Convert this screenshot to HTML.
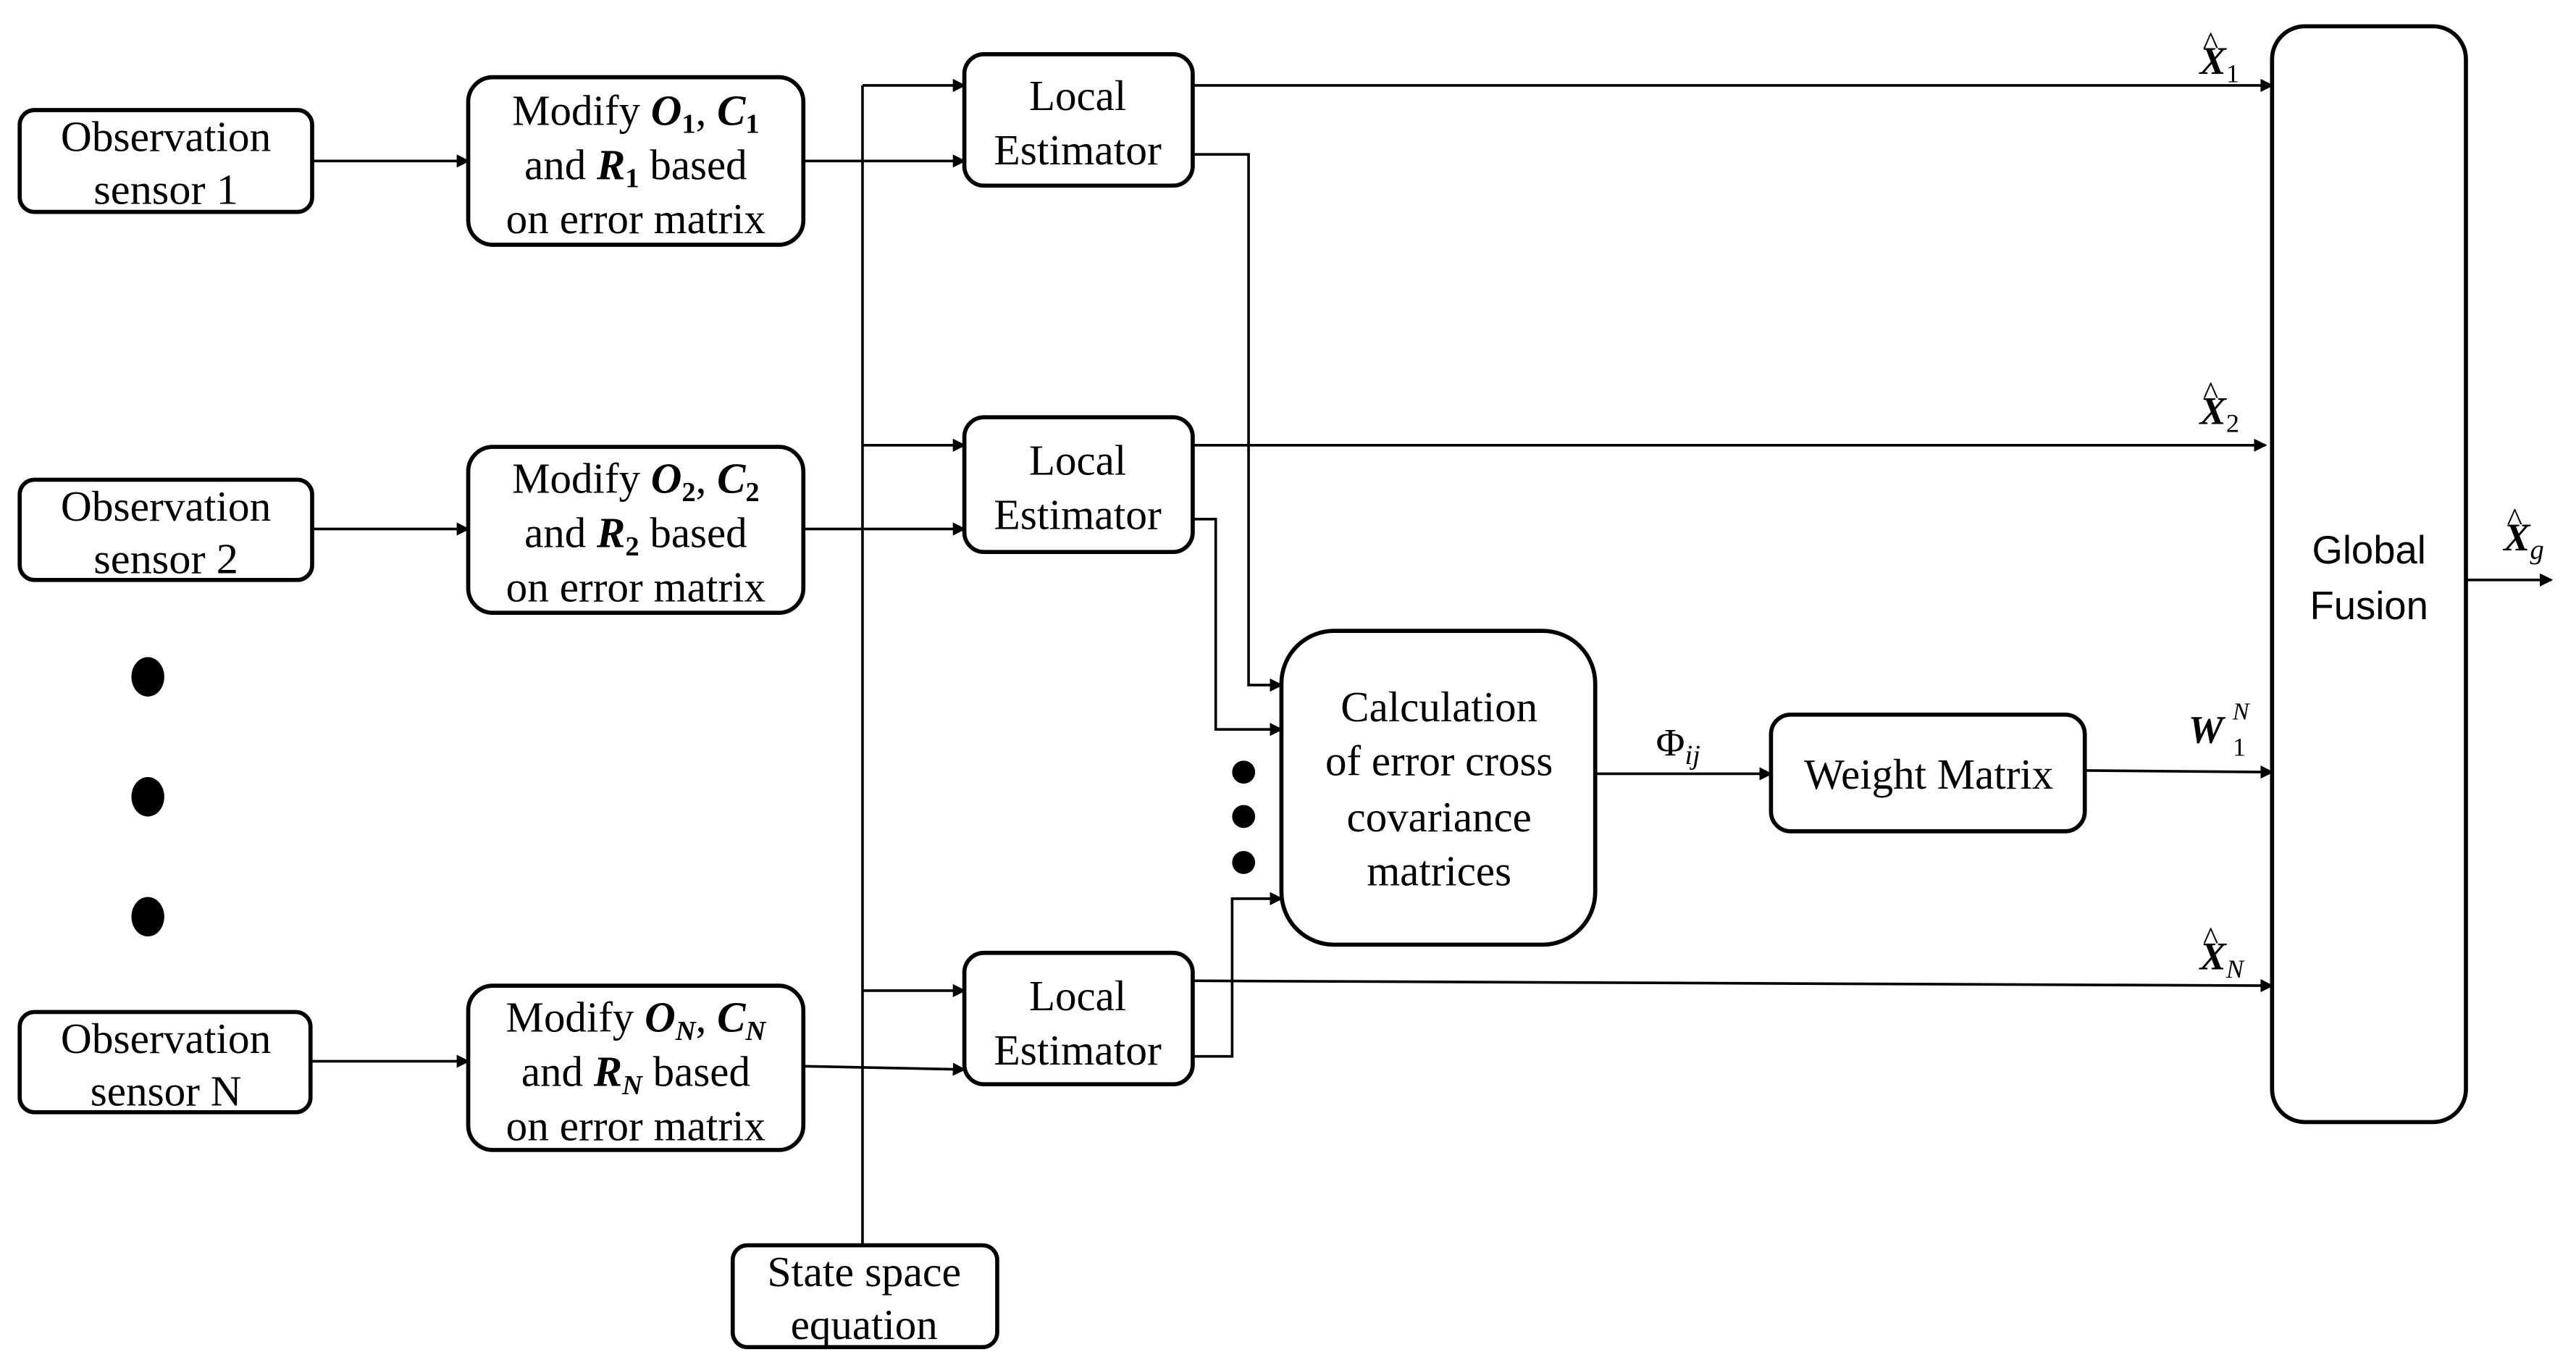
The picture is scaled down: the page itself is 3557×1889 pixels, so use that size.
<!DOCTYPE html>
<html><head><meta charset="utf-8"><style>html,body{margin:0;padding:0;background:#fff}svg{display:block}
.s{font-family:"Liberation Serif","Times New Roman",serif}
.ss{font-family:"Liberation Sans",Arial,sans-serif}
</style></head>
<body>
<svg width="3557" height="1889" viewBox="0 0 1568 832.7" preserveAspectRatio="none" xmlns="http://www.w3.org/2000/svg">
<defs>
<marker id="a" markerWidth="8" markerHeight="8" refX="7" refY="4" orient="auto" markerUnits="userSpaceOnUse"><path d="M0,0 L8,4 L0,8 z" fill="#000"/></marker>
</defs>
<g fill="none" stroke="#000" stroke-width="2.5">
<rect x="12" y="67" width="178" height="62" rx="9"/>
<rect x="12" y="292" width="178" height="61" rx="9"/>
<rect x="12" y="616" width="177" height="61" rx="9"/>
<rect x="285" y="47" width="204" height="102" rx="15"/>
<rect x="285" y="272" width="204" height="101" rx="15"/>
<rect x="285" y="600" width="204" height="100" rx="15"/>
<rect x="587" y="33" width="139" height="80" rx="12"/>
<rect x="587" y="254" width="139" height="82" rx="12"/>
<rect x="587" y="580" width="139" height="80" rx="12"/>
<rect x="446" y="758" width="161" height="62" rx="9"/>
<rect x="780" y="384" width="191" height="191" rx="32"/>
<rect x="1078" y="435" width="191" height="71" rx="12"/>
<rect x="1383" y="16" width="118" height="667" rx="20"/>
</g>
<g fill="none" stroke="#000" stroke-width="1.6" marker-end="url(#a)">
<line x1="190" y1="98" x2="285" y2="98"/>
<line x1="190" y1="322" x2="285" y2="322"/>
<line x1="189" y1="646" x2="285" y2="646"/>
<line x1="489" y1="98" x2="587" y2="98"/>
<line x1="489" y1="322" x2="587" y2="322"/>
<line x1="489" y1="649" x2="587" y2="651"/>
<line x1="525" y1="52" x2="587" y2="52"/>
<line x1="525" y1="271" x2="587" y2="271"/>
<line x1="525" y1="603" x2="587" y2="603"/>
<line x1="726" y1="52" x2="1383" y2="52"/>
<line x1="726" y1="271" x2="1379" y2="271"/>
<line x1="726" y1="597" x2="1383" y2="600"/>
<polyline points="726,94 760,94 760,417 780,417"/>
<polyline points="726,316 740,316 740,444 780,444"/>
<polyline points="726,643 750,643 750,547 780,547"/>
<line x1="971" y1="471" x2="1078" y2="471"/>
<line x1="1269" y1="469" x2="1383" y2="470"/>
<line x1="1501" y1="353" x2="1553" y2="353"/>
</g>
<line x1="525" y1="52" x2="525" y2="758" stroke="#000" stroke-width="1.6"/>
<g fill="#000">
<ellipse cx="90" cy="412" rx="10" ry="12"/>
<ellipse cx="90" cy="485" rx="10" ry="12"/>
<ellipse cx="90" cy="558" rx="10" ry="12"/>
<circle cx="757" cy="470" r="7"/>
<circle cx="757" cy="497" r="7"/>
<circle cx="757" cy="525" r="7"/>
</g>
<g class="s" font-size="26" text-anchor="middle" fill="#000">
<text x="101" y="92" textLength="128" lengthAdjust="spacingAndGlyphs">Observation</text>
<text x="101" y="124" textLength="88" lengthAdjust="spacingAndGlyphs">sensor 1</text>
<text x="101" y="317" textLength="128" lengthAdjust="spacingAndGlyphs">Observation</text>
<text x="101" y="349" textLength="88" lengthAdjust="spacingAndGlyphs">sensor 2</text>
<text x="101" y="641" textLength="128" lengthAdjust="spacingAndGlyphs">Observation</text>
<text x="101" y="673" textLength="92" lengthAdjust="spacingAndGlyphs">sensor N</text>

<text x="387" y="76">Modify <tspan font-weight="bold" font-style="italic">O</tspan><tspan font-size="17" font-weight="bold" dy="5">1</tspan><tspan dy="-5">, </tspan><tspan font-weight="bold" font-style="italic">C</tspan><tspan font-size="17" font-weight="bold" dy="5">1</tspan></text>
<text x="387" y="109">and <tspan font-weight="bold" font-style="italic">R</tspan><tspan font-size="17" font-weight="bold" dy="5">1</tspan><tspan dy="-5"> based</tspan></text>
<text x="387" y="142" textLength="158" lengthAdjust="spacingAndGlyphs">on error matrix</text>

<text x="387" y="300">Modify <tspan font-weight="bold" font-style="italic">O</tspan><tspan font-size="17" font-weight="bold" dy="5">2</tspan><tspan dy="-5">, </tspan><tspan font-weight="bold" font-style="italic">C</tspan><tspan font-size="17" font-weight="bold" dy="5">2</tspan></text>
<text x="387" y="333">and <tspan font-weight="bold" font-style="italic">R</tspan><tspan font-size="17" font-weight="bold" dy="5">2</tspan><tspan dy="-5"> based</tspan></text>
<text x="387" y="366" textLength="158" lengthAdjust="spacingAndGlyphs">on error matrix</text>

<text x="387" y="628">Modify <tspan font-weight="bold" font-style="italic">O</tspan><tspan font-size="17" font-weight="bold" font-style="italic" dy="5">N</tspan><tspan dy="-5">, </tspan><tspan font-weight="bold" font-style="italic">C</tspan><tspan font-size="17" font-weight="bold" font-style="italic" dy="5">N</tspan></text>
<text x="387" y="661">and <tspan font-weight="bold" font-style="italic">R</tspan><tspan font-size="17" font-weight="bold" font-style="italic" dy="5">N</tspan><tspan dy="-5"> based</tspan></text>
<text x="387" y="694" textLength="158" lengthAdjust="spacingAndGlyphs">on error matrix</text>

<text x="656" y="67">Local</text>
<text x="656" y="100" textLength="102" lengthAdjust="spacingAndGlyphs">Estimator</text>
<text x="656" y="289">Local</text>
<text x="656" y="322" textLength="102" lengthAdjust="spacingAndGlyphs">Estimator</text>
<text x="656" y="615">Local</text>
<text x="656" y="648" textLength="102" lengthAdjust="spacingAndGlyphs">Estimator</text>

<text x="526" y="783" textLength="118" lengthAdjust="spacingAndGlyphs">State space</text>
<text x="526" y="815">equation</text>

<text x="876" y="439">Calculation</text>
<text x="876" y="472">of error cross</text>
<text x="876" y="506">covariance</text>
<text x="876" y="539">matrices</text>

<text x="1174" y="480">Weight Matrix</text>
</g>
<g class="ss" font-size="24" text-anchor="middle" fill="#000">
<text x="1442" y="343">Global</text>
<text x="1442" y="377">Fusion</text>
</g>
<g class="s" fill="#000">
<text x="1008" y="460" font-size="24">Φ<tspan font-size="17" font-style="italic" dy="5">ij</tspan></text>
<text x="1339" y="45" font-size="24" font-weight="bold" font-style="italic">X<tspan font-size="16" font-weight="normal" font-style="normal" dy="5">1</tspan></text>
<text x="1341" y="33" font-size="20">^</text>
<text x="1339" y="258" font-size="24" font-weight="bold" font-style="italic">X<tspan font-size="16" font-weight="normal" font-style="normal" dy="5">2</tspan></text>
<text x="1341" y="246" font-size="20">^</text>
<text x="1339" y="590" font-size="24" font-weight="bold" font-style="italic">X<tspan font-size="16" font-style="italic" font-weight="normal" dy="5">N</tspan></text>
<text x="1341" y="578" font-size="20">^</text>
<text x="1332" y="452" font-size="24" font-weight="bold" font-style="italic">W</text>
<text x="1359" y="438" font-size="15" font-style="italic">N</text>
<text x="1359" y="460" font-size="16">1</text>
<text x="1524" y="335" font-size="24" font-weight="bold" font-style="italic">X<tspan font-size="17" font-style="italic" font-weight="normal" dy="5">g</tspan></text>
<text x="1526" y="323" font-size="20">^</text>
</g>
</svg>
</body></html>
